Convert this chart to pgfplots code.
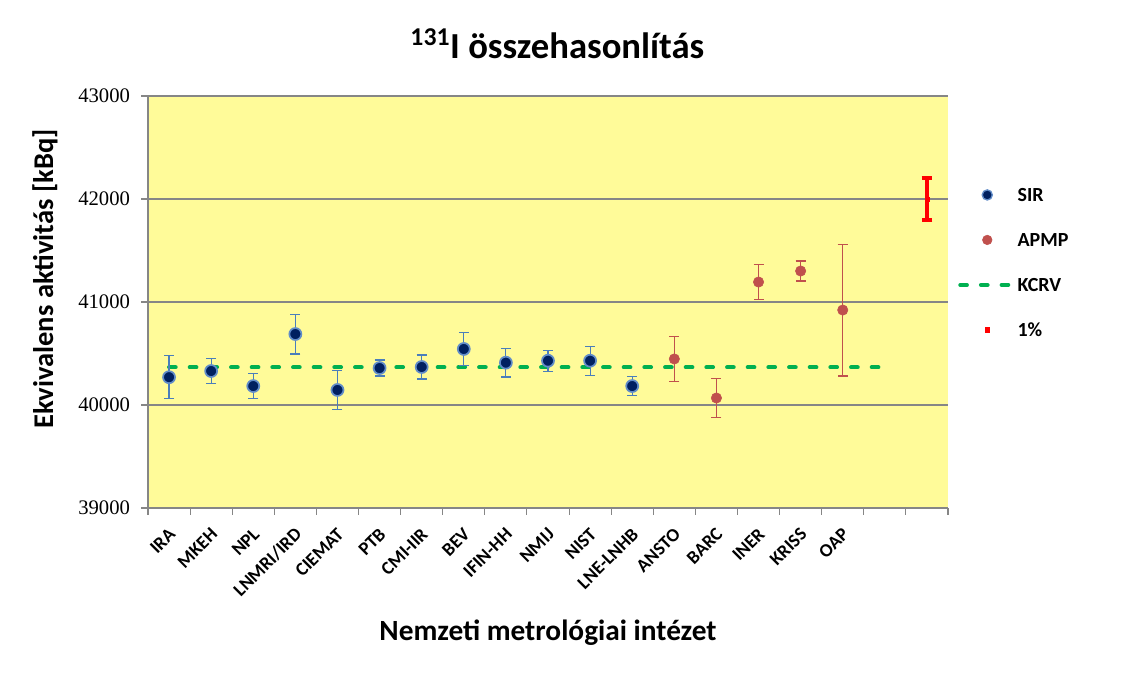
\documentclass[border=0pt]{standalone}
\usepackage{fontspec}
\setmainfont{Carlito}
\newfontfamily\tnr{Liberation Serif}
\usepackage{pgfplots}
\usepackage{pgfplotstable}
\pgfplotsset{compat=1.18}

\definecolor{bgyellow}{RGB}{255,251,153}
\definecolor{gridgray}{RGB}{134,134,134}
\definecolor{sirfill}{RGB}{0,32,96}
\definecolor{sirring}{RGB}{97,140,200}
\definecolor{sirbar}{RGB}{74,126,187}
\definecolor{apmp}{RGB}{192,80,77}
\definecolor{kcrv}{RGB}{0,176,80}

% x = position of the institute, y = activity [kBq], e = uncertainty
\pgfplotstableread{
x  y      e
0  40270  207
1  40330  125
2  40184  121
3  40689  193
4  40146  190
5  40359  78
6  40369  117
7  40544  160
8  40411  139
9  40430  102
10 40430  141
11 40184  94
}\sirdata

\pgfplotstableread{
x  y      e
12 40447  218
13 40068  189
14 41194  170
15 41301  97
16 40922  640
}\apmpdata

\begin{document}
\begin{tikzpicture}
\begin{axis}[
    name=ax,
    scale only axis,
    width=600pt, height=309pt,
    xmin=-0.5, xmax=18.5,
    ymin=39000, ymax=43000,
    ytick={39000,40000,41000,42000,43000},
    scaled y ticks=false,
    yticklabel={\pgfmathprintnumber[fixed,precision=0,1000 sep={},assume math mode=true]{\tick}},
    xtick={0,...,16},
    xticklabels={IRA,MKEH,NPL,LNMRI/IRD,CIEMAT,PTB,CMI-IIR,BEV,IFIN-HH,NMIJ,NIST,LNE-LNHB,ANSTO,BARC,INER,KRISS,OAP},
    minor xtick={-0.5,0.5,...,18.5},
    major x tick style={draw=none},
    tick align=outside,
    major tick length=5pt, minor tick length=5pt,
    tick style={color=gridgray, line width=0.8pt},
    axis x line*=bottom, axis y line*=left,
    axis line style={color=gridgray, line width=0.8pt, -},
    ymajorgrids, grid style={color=gridgray, line width=0.8pt},
    axis background/.style={fill=bgyellow},
    yticklabel style={font=\tnr\fontsize{15.5}{16}\selectfont, xshift=-5pt},
    xticklabel style={font=\bfseries\fontsize{14}{15}\selectfont, rotate=45, anchor=east, inner sep=0pt, yshift=-10.4pt, xshift=-7.1pt},
    title={\textsuperscript{131}I összehasonlítás},
    title style={font=\bfseries\fontsize{27.5}{30}\selectfont, at={(axis description cs:0.5,1)}, anchor=base, yshift=22.5pt, xshift=7pt},
    xlabel={Nemzeti metrológiai intézet},
    xlabel style={font=\bfseries\fontsize{22}{24}\selectfont, at={(axis description cs:0.5,0)}, anchor=base, yshift=-99pt},
    ylabel={Ekvivalens aktivitás [kBq]},
    ylabel style={font=\bfseries\fontsize{21.4}{24}\selectfont, at={(axis description cs:-0.11875,0.556)}, anchor=base},
    clip=false,
    legend style={at={(axis description cs:1.0125,0.7767)}, anchor=north west, draw=none, fill=none,
        inner sep=0pt, row sep=23.75pt, font=\bfseries\fontsize{15}{16}\selectfont,
        nodes={inner sep=0pt, text height=10pt, text depth=0pt},
        /tikz/every odd column/.append style={column sep=1pt}},
    legend cell align=left,
    legend image code/.code={\draw[mark repeat=2,mark phase=2,#1] plot coordinates {(0pt,0pt)(20.25pt,0pt)(40.5pt,0pt)};},
]
\addlegendimage{only marks, mark=*, mark size=3.8pt, mark options={fill=sirfill, draw=sirring, line width=1pt}}
\addlegendentry{SIR}
\addlegendimage{only marks, mark=*, mark size=3.6pt, mark options={fill=apmp, draw=apmp}}
\addlegendentry{APMP}
\addlegendimage{color=kcrv, line width=3pt, dash pattern=on 5pt off 10.5pt, line cap=round}
\addlegendentry{KCRV}
\addlegendimage{only marks, mark=square*, mark size=1.8pt, mark options={fill=red, draw=red}}
\addlegendentry{1\%}

% KCRV
\addplot[forget plot, color=kcrv, line width=3pt, dash pattern=on 5pt off 10.5pt, line cap=round]
    coordinates {(0,40366) (17,40366)};

% SIR
\addplot[forget plot, only marks, mark=*, mark size=4.5pt,
    mark options={fill=sirfill, draw=sirring, line width=1.3pt},
    error bars/.cd, y dir=both, y explicit,
    error bar style={color=sirbar, line width=0.9pt},
    error mark options={rotate=90, mark size=3.75pt, line width=0.9pt, color=sirbar}]
    table[x=x, y=y, y error=e] {\sirdata};

% APMP
\addplot[forget plot, only marks, mark=*, mark size=3.9pt,
    mark options={fill=apmp, draw=apmp},
    error bars/.cd, y dir=both, y explicit,
    error bar style={color=apmp, line width=0.9pt},
    error mark options={rotate=90, mark size=3.75pt, line width=0.9pt, color=apmp}]
    table[x=x, y=y, y error=e] {\apmpdata};

% 1 %
\addplot[forget plot, only marks, mark=square*, mark size=1.5pt,
    mark options={fill=red, draw=red},
    error bars/.cd, y dir=both, y explicit,
    error bar style={color=red, line width=3pt},
    error mark options={rotate=90, mark size=4pt, line width=3pt, color=red}]
    coordinates {(18,42000) +- (0,204)};
\end{axis}
\path (ax.south west) +(-111pt,-130.5pt) (ax.north east) +(130.5pt,72pt);
\end{tikzpicture}
\end{document}
